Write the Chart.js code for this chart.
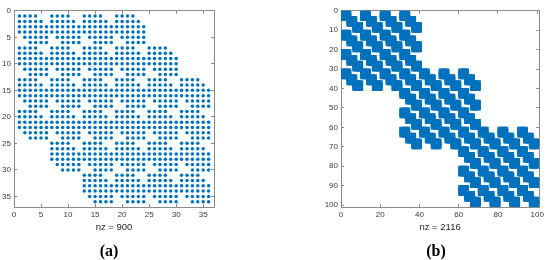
<!DOCTYPE html>
<html>
<head>
<meta charset="utf-8">
<script src="https://cdn.jsdelivr.net/npm/chart.js@4/dist/chart.umd.min.js"></script>
<style>
  body { margin: 0; background: #fff; }
  #wrap { position: relative; width: 550px; height: 260px; overflow: hidden; }
  canvas { position: absolute; top: 0; }
  .lbl { position: absolute; top: 242px; width: 40px; text-align: center;
         font: bold 16px "Liberation Serif", "Times New Roman", serif; color: #000; }
</style>
</head>
<body>
<div id="wrap">
  <canvas id="spyA" width="230" height="260" style="left:0px"></canvas>
  <canvas id="spyB" width="230" height="260" style="left:320px"></canvas>
  <div class="lbl" style="left:89px">(a)</div>
  <div class="lbl" style="left:416px">(b)</div>
</div>
<script>
// base sparsity patterns: [firstCol, lastCol] of each row
// (a) is the pattern of a 6x6 band, repeated as 6x6 blocks of blocks
let baseA = [[1, 4], [1, 5], [1, 6], [1, 6], [2, 6], [3, 6]];
// (b) is three overlapping 4x4 blocks in a 10x10, repeated the same way
let baseB = [[1, 4], [1, 4], [1, 4], [1, 7], [4, 7], [4, 7], [4, 10], [7, 10], [7, 10], [7, 10]];

let sizeA = 36, sizeB = 100;
let nzA = 900, nzB = 2116;
let xTicksA = [0, 5, 10, 15, 20, 25, 30, 35];
let yTicksA = [0, 5, 10, 15, 20, 25, 30, 35];
let xTicksB = [0, 20, 40, 60, 80, 100];
let yTicksB = [0, 10, 20, 30, 40, 50, 60, 70, 80, 90, 100];

let blue = '#0072BD';
let frame = '#8a8a8a';
let tickText = '#3a3a3a';

// block pattern of blocks -> list of nonzero (col,row)
function blockPoints(base) {
    let n = base.length;
    let pts = [];
    for (let I = 1; I <= n; I++) {
        for (let J = base[I - 1][0]; J <= base[I - 1][1]; J++) {
            for (let k = 1; k <= n; k++) {
                for (let l = base[k - 1][0]; l <= base[k - 1][1]; l++) {
                    pts.push({ x: (J - 1) * n + l, y: (I - 1) * n + k });
                }
            }
        }
    }
    return pts;
}

function setTicks(list) {
    return (scale) => { scale.ticks = list.map(v => ({ value: v })); };
}

function fixSize(prop, val) {
    return (scale) => { scale[prop] = val; };
}

function spyChart(id, points, n, nz, xTicks, yTicks, yAxisWidth, padRight, marker) {
    let ctx = document.getElementById(id).getContext('2d');
    let axisGrid = { drawOnChartArea: false, tickLength: -3, color: frame, lineWidth: 1 };
    let tickFont = { family: 'Liberation Sans, Arial, sans-serif', size: 8 };
    return new Chart(ctx, {
        type: 'scatter',
        data: {
            datasets: [{
                data: points,
                backgroundColor: blue,
                borderWidth: 0,
                pointStyle: marker.style,
                pointRadius: marker.radius,
                pointHoverRadius: marker.radius
            }]
        },
        options: {
            responsive: false,
            animation: false,
            events: [],
            layout: { padding: { left: 0, top: 6, right: padRight, bottom: 27 } },
            plugins: { legend: { display: false }, tooltip: { enabled: false } },
            scales: {
                x: {
                    type: 'linear', position: 'bottom', min: 0, max: n + 1,
                    afterBuildTicks: setTicks(xTicks),
                    afterFit: fixSize('height', 26),
                    grid: axisGrid,
                    border: { color: frame },
                    ticks: { color: tickText, font: tickFont, padding: 6, maxRotation: 0 },
                    title: {
                        display: true, text: 'nz = ' + nz, color: '#262626', padding: 0,
                        font: { family: 'Liberation Sans, Arial, sans-serif', size: 9.5 }
                    }
                },
                x2: {
                    type: 'linear', position: 'top', min: 0, max: n + 1,
                    afterBuildTicks: setTicks(xTicks),
                    afterFit: fixSize('height', 0),
                    grid: axisGrid,
                    border: { color: frame },
                    ticks: { display: false }
                },
                y: {
                    type: 'linear', position: 'left', min: 0, max: n + 1, reverse: true,
                    afterBuildTicks: setTicks(yTicks),
                    afterFit: fixSize('width', yAxisWidth),
                    grid: axisGrid,
                    border: { color: frame },
                    ticks: { color: tickText, font: tickFont, padding: 6 }
                },
                y2: {
                    type: 'linear', position: 'right', min: 0, max: n + 1, reverse: true,
                    afterBuildTicks: setTicks(yTicks),
                    afterFit: fixSize('width', 0),
                    grid: axisGrid,
                    border: { color: frame },
                    ticks: { display: false }
                }
            }
        }
    });
}

let chartA = spyChart('spyA', blockPoints(baseA), sizeA, nzA, xTicksA, yTicksA, 14, 16,
    { style: 'circle', radius: 1.75 });
let chartB = spyChart('spyB', blockPoints(baseB), sizeB, nzB, xTicksB, yTicksB, 21, 10,
    { style: 'rect', radius: 3.5 });
</script>
</body>
</html>
